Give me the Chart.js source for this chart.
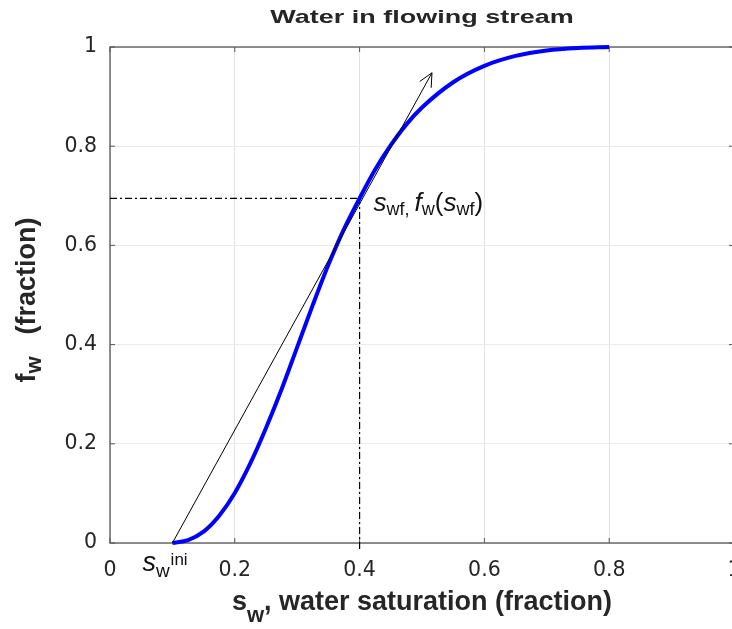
<!DOCTYPE html>
<html lang="en">

<head>
    <meta charset="UTF-8">
    <title>Water in flowing stream</title>
    <script src="https://cdn.jsdelivr.net/npm/chart.js"></script>
</head>

<body>
    <div class="chart-container"><canvas id="flowChart"></canvas></div>
</body>

</html>

<script>
    // fractional flow curve
    const swValues = [0.1, 0.125, 0.15, 0.175, 0.2, 0.225, 0.25, 0.275, 0.3, 0.325, 0.35, 0.375,
        0.4, 0.425, 0.45, 0.475, 0.5, 0.55, 0.6, 0.65, 0.7, 0.75, 0.8];
    const fwValues = [0, 0.006, 0.023, 0.055, 0.101, 0.161, 0.232, 0.31, 0.395, 0.48, 0.561, 0.633,
        0.695, 0.753, 0.802, 0.844, 0.878, 0.929, 0.962, 0.982, 0.993, 0.998, 1];

    // tangent (Welge) line from the initial saturation
    const tangentSw = [0.1, 0.516];
    const tangentFw = [0, 0.948];

    // shock front point
    const frontSw = 0.4;
    const frontFw = 0.695;

    const tickValues = [0, 0.2, 0.4, 0.6, 0.8, 1];

    const FONT = "'Liberation Sans', Arial, Helvetica, sans-serif";
    const TICK_FONT = "'DejaVu Sans', sans-serif";
    const TEXT_COLOR = "#262626";

    // draws a row of text pieces (normal, subscript, superscript) starting at x
    function drawRuns(ctx, x, y, runs, align) {
        let total = 0;
        runs.forEach(r => {
            ctx.font = r.font;
            total += ctx.measureText(r.text).width + (r.gap || 0);
        });
        let cx = align === "center" ? x - total / 2 : x;
        runs.forEach(r => {
            ctx.font = r.font;
            ctx.fillText(r.text, cx, y + (r.dy || 0));
            cx += ctx.measureText(r.text).width + (r.gap || 0);
        });
    }

    const decorPlugin = {
        id: "decor",
        beforeDatasetsDraw(chart) {
            const { ctx, chartArea: a, scales } = chart;
            ctx.save();
            // axes box
            ctx.strokeStyle = "#555555";
            ctx.lineWidth = 1.3;
            ctx.strokeRect(a.left, a.top, a.right - a.left, a.bottom - a.top);
            // inward tick marks, like the reference
            ctx.lineWidth = 1;
            tickValues.forEach(v => {
                const px = scales.x.getPixelForValue(v);
                const py = scales.y.getPixelForValue(v);
                ctx.beginPath();
                ctx.moveTo(px, a.bottom); ctx.lineTo(px, a.bottom - 5);
                ctx.moveTo(px, a.top); ctx.lineTo(px, a.top + 5);
                ctx.moveTo(a.left, py); ctx.lineTo(a.left + 5, py);
                ctx.moveTo(a.right, py); ctx.lineTo(a.right - 5, py);
                ctx.stroke();
            });
            ctx.restore();
        },
        afterDatasetsDraw(chart) {
            const { ctx, chartArea: a, scales } = chart;
            ctx.save();

            // arrow head at the end of the tangent line
            const tang = chart.getDatasetMeta(1).data;
            const p0 = tang[0], p1 = tang[tang.length - 1];
            const ang = Math.atan2(p1.y - p0.y, p1.x - p0.x);
            const len = 15, spread = 0.45;
            ctx.strokeStyle = "#000";
            ctx.lineWidth = 1;
            ctx.beginPath();
            ctx.moveTo(p1.x - len * Math.cos(ang - spread), p1.y - len * Math.sin(ang - spread));
            ctx.lineTo(p1.x, p1.y);
            ctx.lineTo(p1.x - len * Math.cos(ang + spread), p1.y - len * Math.sin(ang + spread));
            ctx.stroke();

            // annotation next to the front point
            ctx.fillStyle = "#111";
            ctx.textBaseline = "alphabetic";
            ctx.textAlign = "left";
            const big = "italic 26px " + FONT;
            const sub = "18px " + FONT;
            const fx = scales.x.getPixelForValue(frontSw);
            const fy = scales.y.getPixelForValue(frontFw);
            drawRuns(ctx, fx + 14, fy + 13, [
                { text: "s", font: big },
                { text: "wf,", font: sub, dy: 4, gap: 5 },
                { text: "f", font: big },
                { text: "w", font: sub, dy: 4 },
                { text: "(", font: "26px " + FONT },
                { text: "s", font: big },
                { text: "wf", font: sub, dy: 4 },
                { text: ")", font: "26px " + FONT }
            ]);

            // initial saturation label
            const ix = scales.x.getPixelForValue(tangentSw[0]);
            drawRuns(ctx, ix - 30, a.bottom + 28, [
                { text: "s", font: "italic 27px " + FONT },
                { text: "w", font: "19px " + FONT, dy: 6, gap: 1 },
                { text: "ini", font: "17px " + FONT, dy: -6 }
            ]);

            // title, wide bold face as in the reference
            const midX = (a.left + a.right) / 2;
            ctx.fillStyle = TEXT_COLOR;
            ctx.font = "bold 19px " + FONT;
            ctx.textAlign = "center";
            ctx.save();
            ctx.translate(midX, 23);
            ctx.scale(1.42, 1);
            ctx.fillText("Water in flowing stream", 0, 0);
            ctx.restore();

            // x axis title
            ctx.textAlign = "left";
            const bold = "bold 27px " + FONT;
            const bsub = "bold 22px " + FONT;
            drawRuns(ctx, midX, 610, [
                { text: "s", font: bold },
                { text: "w", font: bsub, dy: 12 },
                { text: ", water saturation (fraction)", font: bold }
            ], "center");

            // y axis title, rotated
            ctx.translate(34.5, 300);
            ctx.rotate(-Math.PI / 2);
            drawRuns(ctx, 0, 0, [
                { text: "f", font: bold },
                { text: "w", font: bsub, dy: 6, gap: 22 },
                { text: "(fraction)", font: bold }
            ], "center");

            ctx.restore();
        }
    };

    const curvePoints = swValues.map((sw, i) => ({ x: sw, y: fwValues[i] }));
    const tangentPoints = tangentSw.map((sw, i) => ({ x: sw, y: tangentFw[i] }));

    new Chart(document.getElementById("flowChart"), {
        type: "line",
        data: {
            datasets: [
                {
                    label: "fw",
                    data: curvePoints,
                    borderColor: "#0000ff",
                    borderWidth: 4,
                    pointRadius: 0,
                    cubicInterpolationMode: "monotone",
                    clip: 6,
                    order: 1
                },
                {
                    label: "tangent",
                    data: tangentPoints,
                    borderColor: "#000000",
                    borderWidth: 1,
                    pointRadius: 0,
                    order: 0
                },
                {
                    label: "front fw",
                    data: [{ x: 0, y: frontFw }, { x: frontSw, y: frontFw }],
                    borderColor: "#000000",
                    borderWidth: 1.2,
                    borderDash: [7, 3, 2, 3],
                    pointRadius: 0,
                    order: 2
                },
                {
                    label: "front sw",
                    data: [{ x: frontSw, y: -0.012 }, { x: frontSw, y: frontFw }],
                    borderColor: "#000000",
                    borderWidth: 1.2,
                    borderDash: [7, 3, 2, 3],
                    pointRadius: 0,
                    clip: 8,
                    order: 2
                }
            ]
        },
        options: {
            responsive: true,
            maintainAspectRatio: false,
            animation: false,
            layout: { padding: { top: 47, right: 6, left: 0, bottom: 0 } },
            plugins: {
                legend: { display: false },
                title: { display: false },
                tooltip: { enabled: false }
            },
            scales: {
                x: {
                    type: "linear",
                    min: 0,
                    max: 1,
                    afterBuildTicks: s => { s.ticks = tickValues.map(v => ({ value: v })); },
                    afterFit: s => { s.height = 86; s.paddingLeft = 0; s.paddingRight = 0; },
                    grid: { color: "#e2e2e2", drawTicks: false },
                    border: { display: false },
                    ticks: {
                        padding: 15,
                        color: TEXT_COLOR,
                        font: { family: TICK_FONT, size: 20.5 },
                        maxRotation: 0,
                        callback: v => String(Math.round(v * 10) / 10)
                    }
                },
                y: {
                    type: "linear",
                    min: 0,
                    max: 1,
                    afterBuildTicks: s => { s.ticks = tickValues.map(v => ({ value: v })); },
                    afterFit: s => { s.width = 110; s.paddingTop = 0; s.paddingBottom = 0; },
                    grid: { color: "#ebebeb", drawTicks: false },
                    border: { display: false },
                    ticks: {
                        padding: 13,
                        color: TEXT_COLOR,
                        font: { family: TICK_FONT, size: 20.5 },
                        callback: v => String(Math.round(v * 10) / 10)
                    }
                }
            }
        },
        plugins: [decorPlugin]
    });
</script>

<style>
    html,
    body {
        margin: 0;
        background: white;
        overflow: hidden;
    }

    .chart-container {
        width: 740px;
        height: 629px;
        position: relative;
    }
</style>
